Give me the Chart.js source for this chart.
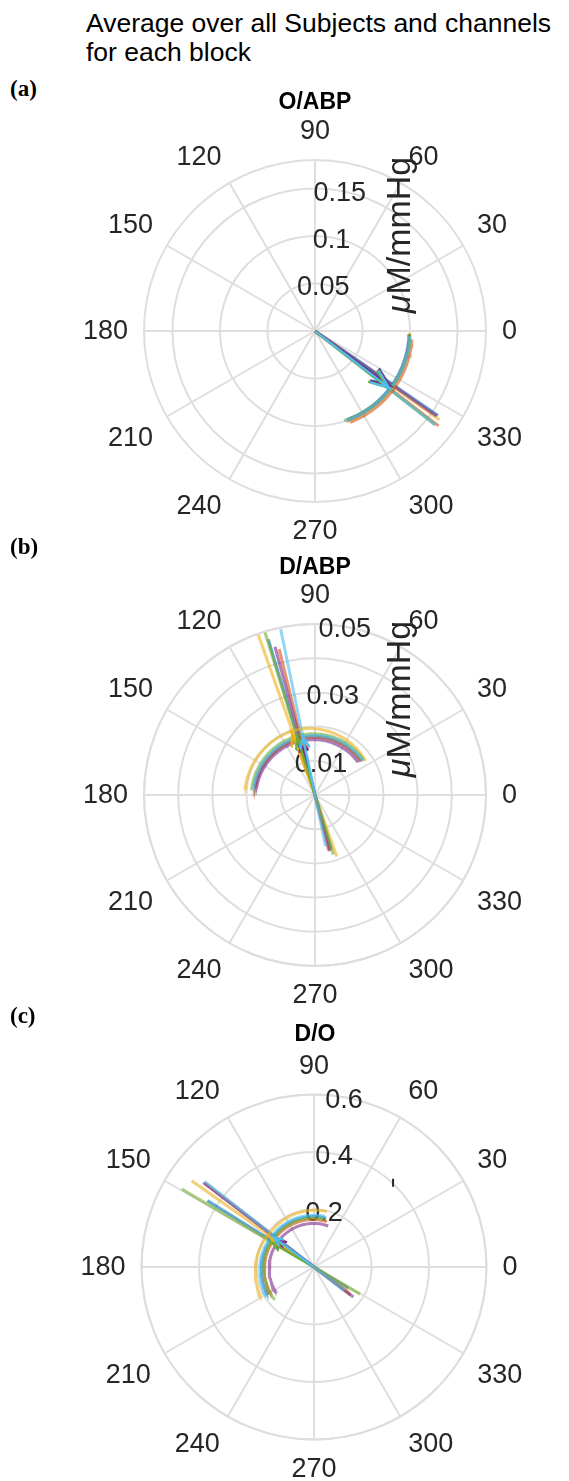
<!DOCTYPE html>
<html>
<head>
<meta charset="utf-8">
<script src="https://cdn.jsdelivr.net/npm/chart.js@4.4.0/dist/chart.umd.min.js"></script>
<style>
  html, body { margin: 0; padding: 0; background: #fff; }
  body { position: relative; width: 569px; height: 1481px; overflow: hidden;
         font-family: "Liberation Sans", Arial, Helvetica, sans-serif; }
  canvas { position: absolute; left: 0; }
  .main { position: absolute; left: 86px; top: 9px; font-size: 26.5px; line-height: 29px; color: #000; }
  .tag { position: absolute; left: 10px; font-family: "Liberation Serif", "Times New Roman", serif;
         font-weight: bold; font-size: 23px; line-height: 23px; color: #000; }
  .ttl { position: absolute; left: 215px; width: 200px; text-align: center; font-weight: bold;
         font-size: 23px; line-height: 24px; color: #000; }
</style>
</head>
<body>
<canvas id="chartA" width="569" height="460" style="top:101px"></canvas>
<canvas id="chartB" width="569" height="460" style="top:565px"></canvas>
<canvas id="chartC" width="569" height="460" style="top:1037px"></canvas>

<div class="main">Average over all Subjects and channels<br>for each block</div>
<div class="tag" style="top:77px">(a)</div>
<div class="ttl" style="top:89px">O/ABP</div>
<div class="tag" style="top:535px">(b)</div>
<div class="ttl" style="top:554px">D/ABP</div>
<div class="tag" style="top:1004px">(c)</div>
<div class="ttl" style="top:1021px">D/O</div>

<script>
// angle grid (degrees)
const angleTicks = [0, 30, 60, 90, 120, 150, 180, 210, 240, 270, 300, 330];

// series: blue, orange, yellow, purple, green, cyan (matlab order)
const seriesRGB = [[0,114,189],[217,83,25],[237,177,32],[126,47,142],[119,172,48],[77,190,238]];

// (a) O/ABP
const oabpRingTicks = [0.05, 0.1, 0.15];
const oabpTickLabels = ["0.05", "0.1", "0.15"];
const oabpRMax = 0.18;
const oabpLineAngle = [-34.5, -37.5, -35.5, -35.0, -38.0, -38.0];
const oabpLineOuter = [0.157, 0.164, 0.161, 0.156, 0.160, 0.161];
const oabpLineInner = [0, 0, 0, 0, 0, 0];
const oabpArcFrom = [-70, -69, -71, -70, -72, -71];
const oabpArcTo = [-2, -5, -1, -2, -2, -3];
const oabpArcRFrom = [0.099, 0.103, 0.101, 0.100, 0.099, 0.100];
const oabpArcRMid = [0.099, 0.103, 0.101, 0.100, 0.100, 0.100];
const oabpArcRTo = [0.099, 0.1025, 0.100, 0.0995, 0.100, 0.100];
const oabpArrowAngle = [-36, -37, -37, -36.5, -38, -37.5];
const oabpArrowLen = [0.097, 0.099, 0.098, 0.097, 0.096, 0.098];

// (b) D/ABP
const dabpRingTicks = [0.01, 0.02, 0.03, 0.04, 0.05];
const dabpTickLabels = ["0.01", "", "0.03", "", "0.05"];
const dabpRMax = 0.05;
const dabpLineAngle = [106.7, 103.8, 109.5, 105.1, 107.1, 101.7];
const dabpLineOuter = [0.0475, 0.0439, 0.0497, 0.0449, 0.0497, 0.0495];
const dabpLineInner = [0.0165, 0.0168, 0.0191, 0.0170, 0.0182, 0.0153];
const dabpArcFrom = [36, 36, 34, 37, 36, 35];
const dabpArcTo = [172, 171, 176, 173.5, 175.5, 174];
const dabpArcRFrom = [0.0168, 0.0166, 0.0178, 0.0158, 0.0175, 0.0172];
const dabpArcRMid = [0.0172, 0.0170, 0.0198, 0.0163, 0.0180, 0.0175];
const dabpArcRTo = [0.0178, 0.0176, 0.0205, 0.0172, 0.0186, 0.0181];
const dabpArrowAngle = [106, 104, 110.5, 104.5, 107, 102];
const dabpArrowLen = [0.0172, 0.0168, 0.0192, 0.0163, 0.0178, 0.0175];

// (c) D/O
const doRingTicks = [0.2, 0.4, 0.6];
const doTickLabels = ["0.2", "0.4", "0.6"];
const doRMax = 0.6;
const doLineAngle = [148.1, 142.5, 144.8, 142.7, 149.5, 142.0];
const doLineOuter = [0.437, 0.480, 0.521, 0.484, 0.534, 0.482];
const doLineInner = [0.140, 0.160, 0.150, 0.172, 0.186, 0.134];
const doArcFrom = [76, 74, 77, 70.8, 76, 77.7];
const doArcTo = [211, 213.5, 209, 215, 220, 212];
const doArcRFrom = [0.175, 0.164, 0.198, 0.151, 0.170, 0.180];
const doArcRMid = [0.177, 0.168, 0.194, 0.153, 0.172, 0.182];
const doArcRTo = [0.188, 0.177, 0.212, 0.159, 0.178, 0.195];
const doArrowAngle = [147, 144, 146, 143, 150, 143.5];
const doArrowLen = [0.172, 0.165, 0.185, 0.158, 0.168, 0.175];
// small dark dash in (c), x/y in data units
const doMarkX = [0.275, 0.275];
const doMarkY = [0.279, 0.307];

const FONT = '"Liberation Sans", Arial, Helvetica, sans-serif';
const AXIS_PX = 27;

function polarXY(deg, r) {
  const t = deg * Math.PI / 180;
  return { x: r * Math.cos(t), y: r * Math.sin(t) };
}

function buildDatasets(p) {
  const ds = [];
  p.lineAngle.forEach((a, i) => {
    const c = seriesRGB[i];
    // long light line
    ds.push({
      data: [polarXY(a, -p.lineInner[i]), polarXY(a, p.lineOuter[i])],
      borderColor: `rgba(${c},0.62)`, borderWidth: 3, order: 300 - i
    });
    // spread arc
    const pts = [];
    const from = p.arcFrom[i], to = p.arcTo[i];
    const n = Math.max(2, Math.round(Math.abs(to - from) / 2));
    for (let k = 0; k <= n; k++) {
      const t = k / n;
      const r = t < 0.5
        ? p.arcRFrom[i] + (p.arcRMid[i] - p.arcRFrom[i]) * t * 2
        : p.arcRMid[i] + (p.arcRTo[i] - p.arcRMid[i]) * (t - 0.5) * 2;
      pts.push(polarXY(from + (to - from) * t, r));
    }
    ds.push({ data: pts, borderColor: `rgba(${c},0.62)`, borderWidth: 3, order: 200 - i });
    // arrow (compass style head)
    const L = p.arrowLen[i], ang = p.arrowAngle[i];
    const tip = polarXY(ang, L);
    const back = ang + 180, wl = 0.215 * L;
    const w1 = polarXY(back + 21.8, wl), w2 = polarXY(back - 21.8, wl);
    ds.push({
      data: [{ x: 0, y: 0 }, tip, { x: tip.x + w1.x, y: tip.y + w1.y }, tip, { x: tip.x + w2.x, y: tip.y + w2.y }],
      borderColor: `rgb(${c})`, borderWidth: 2.2, borderJoinStyle: 'miter', order: 100 - i
    });
  });
  if (p.markX) {
    ds.push({
      data: p.markX.map((x, k) => ({ x, y: p.markY[k] })),
      borderColor: '#262626', borderWidth: 2, order: 0
    });
  }
  return ds;
}

function polarPlugin(p) {
  return {
    id: 'polarGrid',
    beforeDatasetsDraw(chart) {
      const { ctx } = chart;
      const x = chart.scales.x, y = chart.scales.y;
      const cx = x.getPixelForValue(0), cy = y.getPixelForValue(0);
      const R = x.getPixelForValue(p.rMax) - cx;
      const rad = v => x.getPixelForValue(v) - cx;
      ctx.save();
      // rings + spokes
      ctx.strokeStyle = '#dedede';
      ctx.lineWidth = 2;
      p.ticks.concat([p.rMax]).forEach(v => {
        ctx.beginPath();
        ctx.arc(cx, cy, rad(v), 0, Math.PI * 2);
        ctx.stroke();
      });
      angleTicks.forEach(a => {
        const t = a * Math.PI / 180;
        ctx.beginPath();
        ctx.moveTo(cx, cy);
        ctx.lineTo(cx + R * Math.cos(t), cy - R * Math.sin(t));
        ctx.stroke();
      });
      // angle labels, aligned like matlab (left/right, top/bottom by quadrant)
      ctx.fillStyle = '#262626';
      ctx.font = AXIS_PX + 'px ' + FONT;
      ctx.textAlign = 'center';
      ctx.textBaseline = 'middle';
      angleTicks.forEach(a => {
        const t = a * Math.PI / 180, txt = String(a);
        const w = ctx.measureText(txt).width;
        const c = Math.cos(t), s = Math.sin(t);
        const sx = Math.abs(c) < 0.01 ? 0 : Math.sign(c);
        const sy = Math.abs(s) < 0.01 ? 0 : Math.sign(s);
        const d = R + 16;
        ctx.fillText(txt, cx + c * d + sx * w / 2, cy - s * d - sy * 13 + 1);
      });
      // r tick labels along 80 deg
      const t80 = 80 * Math.PI / 180;
      p.ticks.forEach((v, k) => {
        if (!p.labels[k]) return;
        ctx.fillText(p.labels[k], cx + rad(v) * Math.cos(t80), cy - rad(v) * Math.sin(t80) + 3);
      });
      // r axis label
      if (p.rLabel) {
        ctx.translate(cx + 86, cy - 96);
        ctx.rotate(-Math.PI / 2);
        ctx.textAlign = 'left';
        ctx.font = 'italic 34px ' + FONT;
        const wMu = ctx.measureText('\u03bc').width;
        ctx.font = '34px ' + FONT;
        const wRest = ctx.measureText('M/mmHg').width;
        const x0 = -(wMu + wRest) / 2;
        ctx.font = 'italic 34px ' + FONT;
        ctx.fillText('\u03bc', x0, 0);
        ctx.font = '34px ' + FONT;
        ctx.fillText('M/mmHg', x0 + wMu, 0);
      }
      ctx.restore();
    }
  };
}

function makePolar(id, p) {
  const cx = p.cx, R = p.radiusPx, H = 460;
  new Chart(document.getElementById(id), {
    type: 'scatter',
    data: { datasets: buildDatasets(p) },
    options: {
      responsive: false,
      animation: false,
      devicePixelRatio: 1,
      showLine: true,
      layout: { padding: { left: cx - R, right: 569 - cx - R, top: H / 2 - R, bottom: H / 2 - R } },
      scales: {
        x: { display: false, min: -p.rMax, max: p.rMax },
        y: { display: false, min: -p.rMax, max: p.rMax }
      },
      elements: { point: { radius: 0 }, line: { tension: 0, fill: false } },
      plugins: { legend: { display: false }, tooltip: { enabled: false }, title: { display: false } }
    },
    plugins: [polarPlugin(p)]
  });
}

makePolar('chartA', {
  cx: 315, radiusPx: 171, rMax: oabpRMax, ticks: oabpRingTicks, labels: oabpTickLabels, rLabel: true,
  lineAngle: oabpLineAngle, lineOuter: oabpLineOuter, lineInner: oabpLineInner,
  arcFrom: oabpArcFrom, arcTo: oabpArcTo, arcRFrom: oabpArcRFrom, arcRMid: oabpArcRMid, arcRTo: oabpArcRTo,
  arrowAngle: oabpArrowAngle, arrowLen: oabpArrowLen
});
makePolar('chartB', {
  cx: 315, radiusPx: 171, rMax: dabpRMax, ticks: dabpRingTicks, labels: dabpTickLabels, rLabel: true,
  lineAngle: dabpLineAngle, lineOuter: dabpLineOuter, lineInner: dabpLineInner,
  arcFrom: dabpArcFrom, arcTo: dabpArcTo, arcRFrom: dabpArcRFrom, arcRMid: dabpArcRMid, arcRTo: dabpArcRTo,
  arrowAngle: dabpArrowAngle, arrowLen: dabpArrowLen
});
makePolar('chartC', {
  cx: 314, radiusPx: 172.5, rMax: doRMax, ticks: doRingTicks, labels: doTickLabels, rLabel: false,
  lineAngle: doLineAngle, lineOuter: doLineOuter, lineInner: doLineInner,
  arcFrom: doArcFrom, arcTo: doArcTo, arcRFrom: doArcRFrom, arcRMid: doArcRMid, arcRTo: doArcRTo,
  arrowAngle: doArrowAngle, arrowLen: doArrowLen, markX: doMarkX, markY: doMarkY
});
</script>
</body>
</html>
